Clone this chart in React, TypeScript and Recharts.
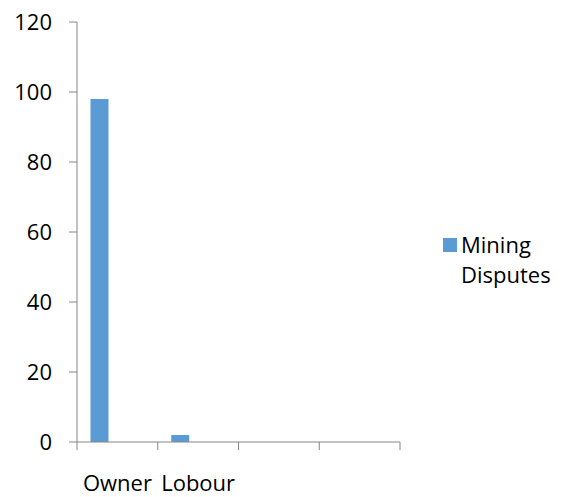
import { Bar, BarChart, Legend, XAxis, YAxis } from "recharts";

const categories = ["Owner", "Lobour", "", ""];
const miningDisputes = [98, 2, null, null];
const seriesTwo = [null, null, null, null];
const seriesThree = [null, null, null, null];
const yTicks = [0, 20, 40, 60, 80, 100, 120];

const data = categories.map((category, i) => ({
  category,
  miningDisputes: miningDisputes[i],
  seriesTwo: seriesTwo[i],
  seriesThree: seriesThree[i],
}));

const FONT = "'Open Sans', sans-serif";
const AXIS_GRAY = "#868686";
const BAR_BLUE = "#5B9BD5";
const LABEL_GAP = 33;
const TICK_LEN = 8;

type LegendEntry = { value: string; color: string; type?: string };

function LegendContent({ payload }: { payload?: LegendEntry[] }) {
  const items = (payload ?? []).filter((entry) => entry.type !== "none");
  return (
    <div style={{ fontFamily: FONT, fontSize: 22, lineHeight: "30px", color: "#000" }}>
      {items.map((entry) => (
        <div key={entry.value} style={{ display: "flex", alignItems: "flex-start" }}>
          <div
            style={{
              width: 14,
              height: 14,
              background: entry.color,
              marginTop: 9,
              marginRight: 4,
              flexShrink: 0,
            }}
          />
          <div style={{ width: 96 }}>{entry.value}</div>
        </div>
      ))}
    </div>
  );
}

// Excel-style category axis: tick marks sit between categories, label in the middle
function CategoryTick(props: any) {
  const { x, y, payload, index, visibleTicksCount } = props;
  const half = payload.offset ?? 0;
  const axisY = y - LABEL_GAP;
  const isLast = index === visibleTicksCount - 1;
  return (
    <g>
      <line x1={x - half} x2={x - half} y1={axisY} y2={axisY + TICK_LEN} stroke={AXIS_GRAY} />
      {isLast && (
        <line x1={x + half} x2={x + half} y1={axisY} y2={axisY + TICK_LEN} stroke={AXIS_GRAY} />
      )}
      <text x={x} y={y} dy="0.71em" textAnchor="middle" fill="#000" fontSize={22} fontFamily={FONT}>
        {payload.value}
      </text>
    </g>
  );
}

export default function App() {
  return (
    <div style={{ position: "absolute", left: 0, top: 0 }}>
      <BarChart
        width={563}
        height={497}
        data={data}
        margin={{ top: 22, right: 43, bottom: 0, left: 0 }}
        barCategoryGap="16.7%"
        barGap={0}
        style={{ fontFamily: FONT }}
      >
        <XAxis
          xAxisId="cat"
          dataKey="category"
          interval={0}
          axisLine={{ stroke: AXIS_GRAY }}
          tickLine={false}
          tickSize={0}
          tickMargin={LABEL_GAP}
          height={55}
          tick={<CategoryTick />}
        />
        <YAxis
          domain={[0, 120]}
          ticks={yTicks}
          interval={0}
          width={77}
          tickSize={8}
          tickMargin={17}
          axisLine={{ stroke: AXIS_GRAY }}
          tickLine={{ stroke: AXIS_GRAY }}
          tick={{ fill: "#000", fontSize: 22, fontFamily: FONT }}
        />
        <Legend
          layout="vertical"
          align="right"
          verticalAlign="middle"
          wrapperStyle={{ left: 443, top: 229, right: "auto", width: 120 }}
          content={<LegendContent />}
        />
        <Bar
          xAxisId="cat"
          dataKey="miningDisputes"
          name="Mining Disputes"
          fill={BAR_BLUE}
          isAnimationActive={false}
        />
        <Bar xAxisId="cat" dataKey="seriesTwo" legendType="none" fill="#ED7D31" isAnimationActive={false} />
        <Bar xAxisId="cat" dataKey="seriesThree" legendType="none" fill="#A5A5A5" isAnimationActive={false} />
      </BarChart>
    </div>
  );
}
